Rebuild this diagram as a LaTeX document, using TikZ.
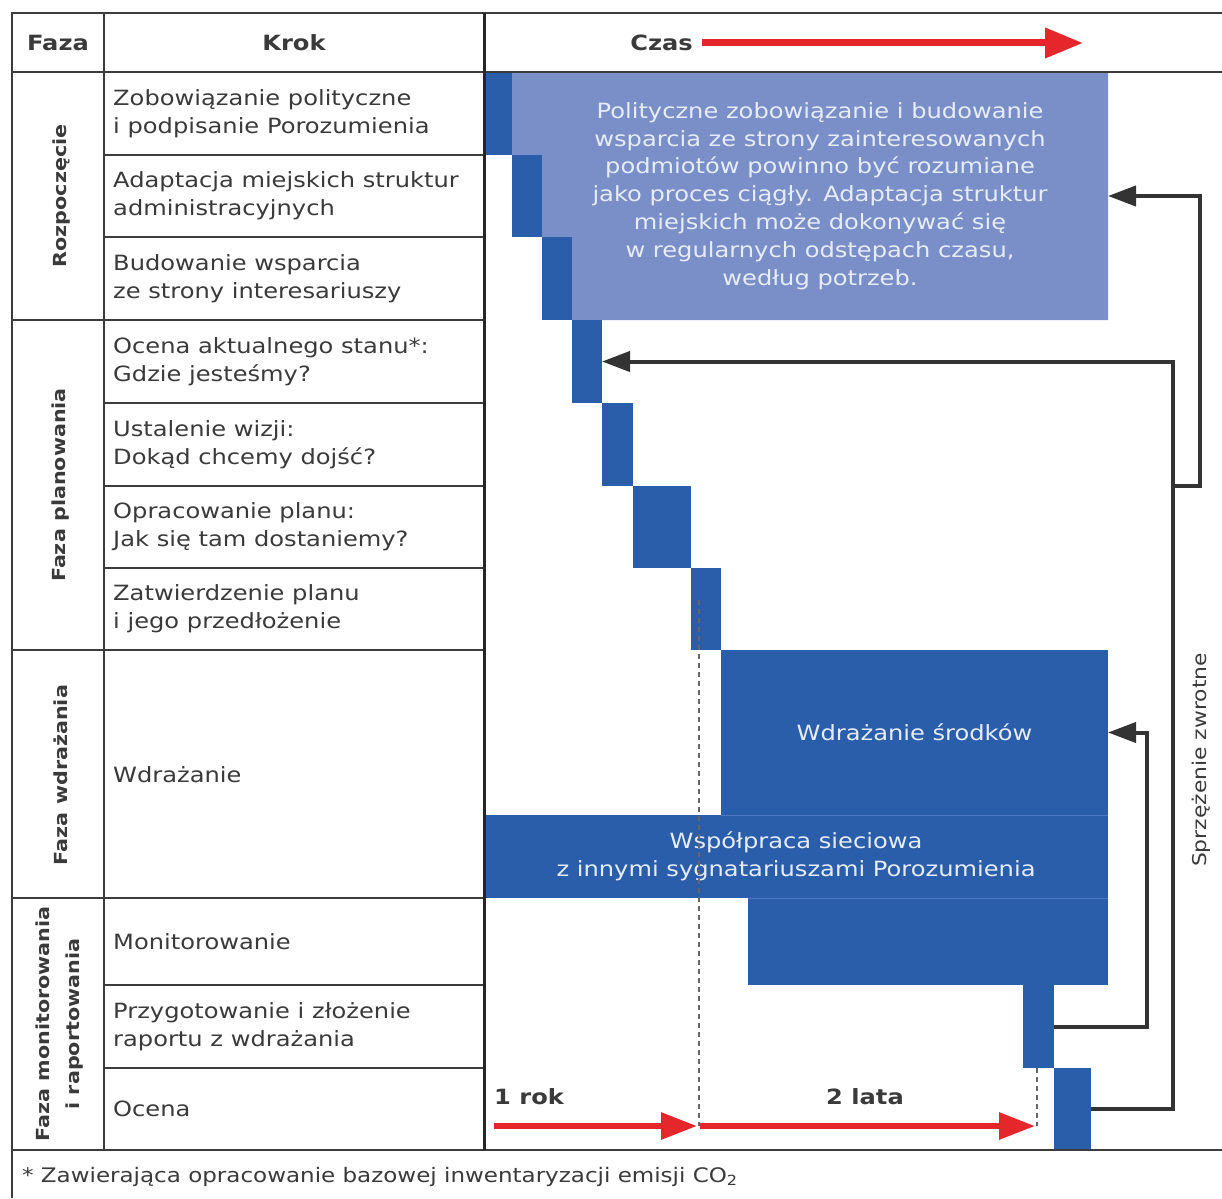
\documentclass[tikz,border=0pt]{standalone}
\usepackage{fontspec}
\setmainfont[FakeStretch=1.15]{DejaVu Sans}
\usetikzlibrary{arrows.meta}
\definecolor{dblue}{HTML}{2B5EAA}
\definecolor{lblue}{HTML}{7A8EC8}
\definecolor{sepblue}{HTML}{4C78C2}
\definecolor{bartext}{HTML}{E6EDFA}
\definecolor{linegray}{HTML}{3C3C3C}
\definecolor{textgray}{HTML}{3A3A3A}
\definecolor{fbgray}{HTML}{333333}
\definecolor{redc}{HTML}{E5262B}
\tikzset{
  grid/.style={draw=linegray, line width=2pt},
  thickgrid/.style={draw=black!85, line width=3pt},
  bar/.style={fill=dblue, draw=none, inner sep=0pt, outer sep=0pt, anchor=north west},
  steptext/.style={anchor=west, align=left, font=\fontsize{21}{28}\selectfont, text=textgray, inner sep=0pt},
  phase/.style={rotate=90, align=center, font=\bfseries\fontsize{18}{30}\selectfont, text=textgray, inner sep=0pt},
  head/.style={font=\bfseries\fontsize{21}{25}\selectfont, text=textgray, inner sep=0pt},
  fb/.style={draw=fbgray, line width=4pt, -{Triangle[length=28pt,width=20pt]}, line join=miter},
  redarrow/.style={draw=redc, line width=6pt, -{Triangle[length=36pt,width=26pt]}},
  guide/.style={draw=black!60, line width=1.5pt, dash pattern=on 5pt off 4pt},
  boxtext/.style={text=bartext, align=center, font=\fontsize{21}{27.8}\selectfont, inner sep=0pt},
}
\begin{document}
\begin{tikzpicture}[x=1pt,y=-1pt]
\useasboundingbox (0,0) rectangle (1222,1198);
\fill[white] (0,0) rectangle (1222,1198);

% light-blue staircase region
\fill[lblue] (512,72) -- (1108,72) -- (1108,320) -- (572,320) -- (572,237) -- (542,237) -- (542,155) -- (512,155) -- cycle;
\node[inner sep=0pt, outer sep=0pt, minimum width=596pt, minimum height=248pt, anchor=north west] (light) at (512,72) {};

% dark bars
\node[bar, minimum width=28pt, minimum height=83pt] (b1) at (484,72) {};
\node[bar, minimum width=30pt, minimum height=82pt] (b2) at (512,155) {};
\node[bar, minimum width=30pt, minimum height=83pt] (b3) at (542,237) {};
\node[bar, minimum width=30pt, minimum height=83pt] (b4) at (572,320) {};
\node[bar, minimum width=31pt, minimum height=83pt] (b5) at (602,403) {};
\node[bar, minimum width=58pt, minimum height=82pt] (b6) at (633,486) {};
\node[bar, minimum width=30pt, minimum height=82pt] (b7) at (691,568) {};
\node[bar, minimum width=387pt, minimum height=165pt] (impl) at (721,650) {};
\node[bar, minimum width=624pt, minimum height=83pt] (net) at (484,815) {};
\node[bar, minimum width=360pt, minimum height=87pt] (mon) at (748,898) {};
\node[bar, minimum width=31pt, minimum height=83pt] (prz) at (1023,985) {};
\node[bar, minimum width=37pt, minimum height=82pt] (oc) at (1054,1068) {};
\draw[sepblue, line width=1pt] (net.north -| impl.west) -- (net.north east);
\draw[sepblue, line width=1pt] (mon.north west) -- (net.south east);

% texts in bars
\node[boxtext] (ltxt) at (820,196) {Polityczne zobowiązanie i budowanie\\wsparcia ze strony zainteresowanych\\podmiotów powinno być rozumiane\\jako proces ciągły. Adaptacja struktur\\miejskich może dokonywać się\\w regularnych odstępach czasu,\\według potrzeb.};
\node[boxtext] (impltxt) at (impl.center) {Wdrażanie środków};
\node[boxtext] (nettxt) at (net.center) {Współpraca sieciowa\\z innymi sygnatariuszami Porozumienia};

% dashed guides
\coordinate (g1t) at (699,600);
\coordinate (g1b) at (699,1126);
\coordinate (g2t) at (1037,1068);
\coordinate (g2b) at (1037,1126);
\draw[guide] (g1t) -- (g1b);
\draw[guide] (g2t) -- (g2b);

% table grid
\draw[grid] (1222,13) -- (12,13) -- (12,1198);
\draw[grid] (12,72) -- (1222,72);
\draw[grid] (12,1150) -- (1222,1150);
\draw[grid] (104,13) -- (104,1150);
\foreach \yy in {320,650,898} \draw[grid] (12,\yy) -- (484,\yy);
\foreach \yy in {155,237,403,486,568,985,1068} \draw[grid] (104,\yy) -- (484,\yy);
\draw[thickgrid] (484,13) -- (484,1150);

% header
\node[head] (hfaza) at (58,43) {Faza};
\node[head] (hkrok) at (294,43) {Krok};
\node[head, anchor=east] (hczas) at (693,43) {Czas};
\coordinate (czasend) at (1083,43);
\draw[draw=redc, line width=7pt, -{Triangle[length=38pt,width=29pt]}] ([xshift=9pt]hczas.east) -- (czasend);

% phase labels
\node[phase] (p1) at (62,196) {Rozpoczęcie};
\node[phase] (p2) at (61,485) {Faza planowania};
\node[phase] (p3) at (61,775) {Faza wdrażania};
\node[phase] (p4) at (60,1024) {Faza monitorowania\\i raportowania};

% step texts
\node[steptext] (s1) at (113,114) {Zobowiązanie polityczne\\i podpisanie Porozumienia};
\node[steptext] (s2) at (113,196) {Adaptacja miejskich struktur\\administracyjnych};
\node[steptext] (s3) at (113,279) {Budowanie wsparcia\\ze strony interesariuszy};
\node[steptext] (s4) at (113,362) {Ocena aktualnego stanu*:\\Gdzie jesteśmy?};
\node[steptext] (s5) at (113,445) {Ustalenie wizji:\\Dokąd chcemy dojść?};
\node[steptext] (s6) at (113,527) {Opracowanie planu:\\Jak się tam dostaniemy?};
\node[steptext] (s7) at (113,609) {Zatwierdzenie planu\\i jego przedłożenie};
\node[steptext] (s8) at (113,775) {Wdrażanie};
\node[steptext] (s9) at (113,942) {Monitorowanie};
\node[steptext] (s10) at (113,1027) {Przygotowanie i złożenie\\raportu z wdrażania};
\node[steptext] (s11) at (113,1109) {Ocena};

% time arrows
\node[head, anchor=west] (yr1) at (494,1097) {1 rok};
\node[head] (yr2) at (865,1097) {2 lata};
\coordinate (r1s) at (494,1126);
\coordinate (r1e) at (697,1126);
\coordinate (r2s) at (700,1126);
\coordinate (r2e) at (1035,1126);
\draw[redarrow] (r1s) -- (r1e);
\draw[redarrow] (r2s) -- (r2e);

% feedback arrows
\draw[fb] (prz.east) -- ++(93,0) |- (impl.east);
\draw[fb] (oc.east) -- ++(82,0) |- (b4.east);
\coordinate (br) at (1173,486);
\draw[fb] (br) -- ++(27,0) |- (light.east);
\node[rotate=90, font=\fontsize{19}{23}\selectfont, text=textgray, inner sep=0pt] (sprz) at (1201,760) {Sprzężenie zwrotne};

% footnote
\node[anchor=west, font=\fontsize{20}{24}\selectfont, text=textgray, inner sep=0pt] (foot) at (22,1177) {* Zawierająca opracowanie bazowej inwentaryzacji emisji CO\textsubscript{2}};
\end{tikzpicture}
\end{document}
